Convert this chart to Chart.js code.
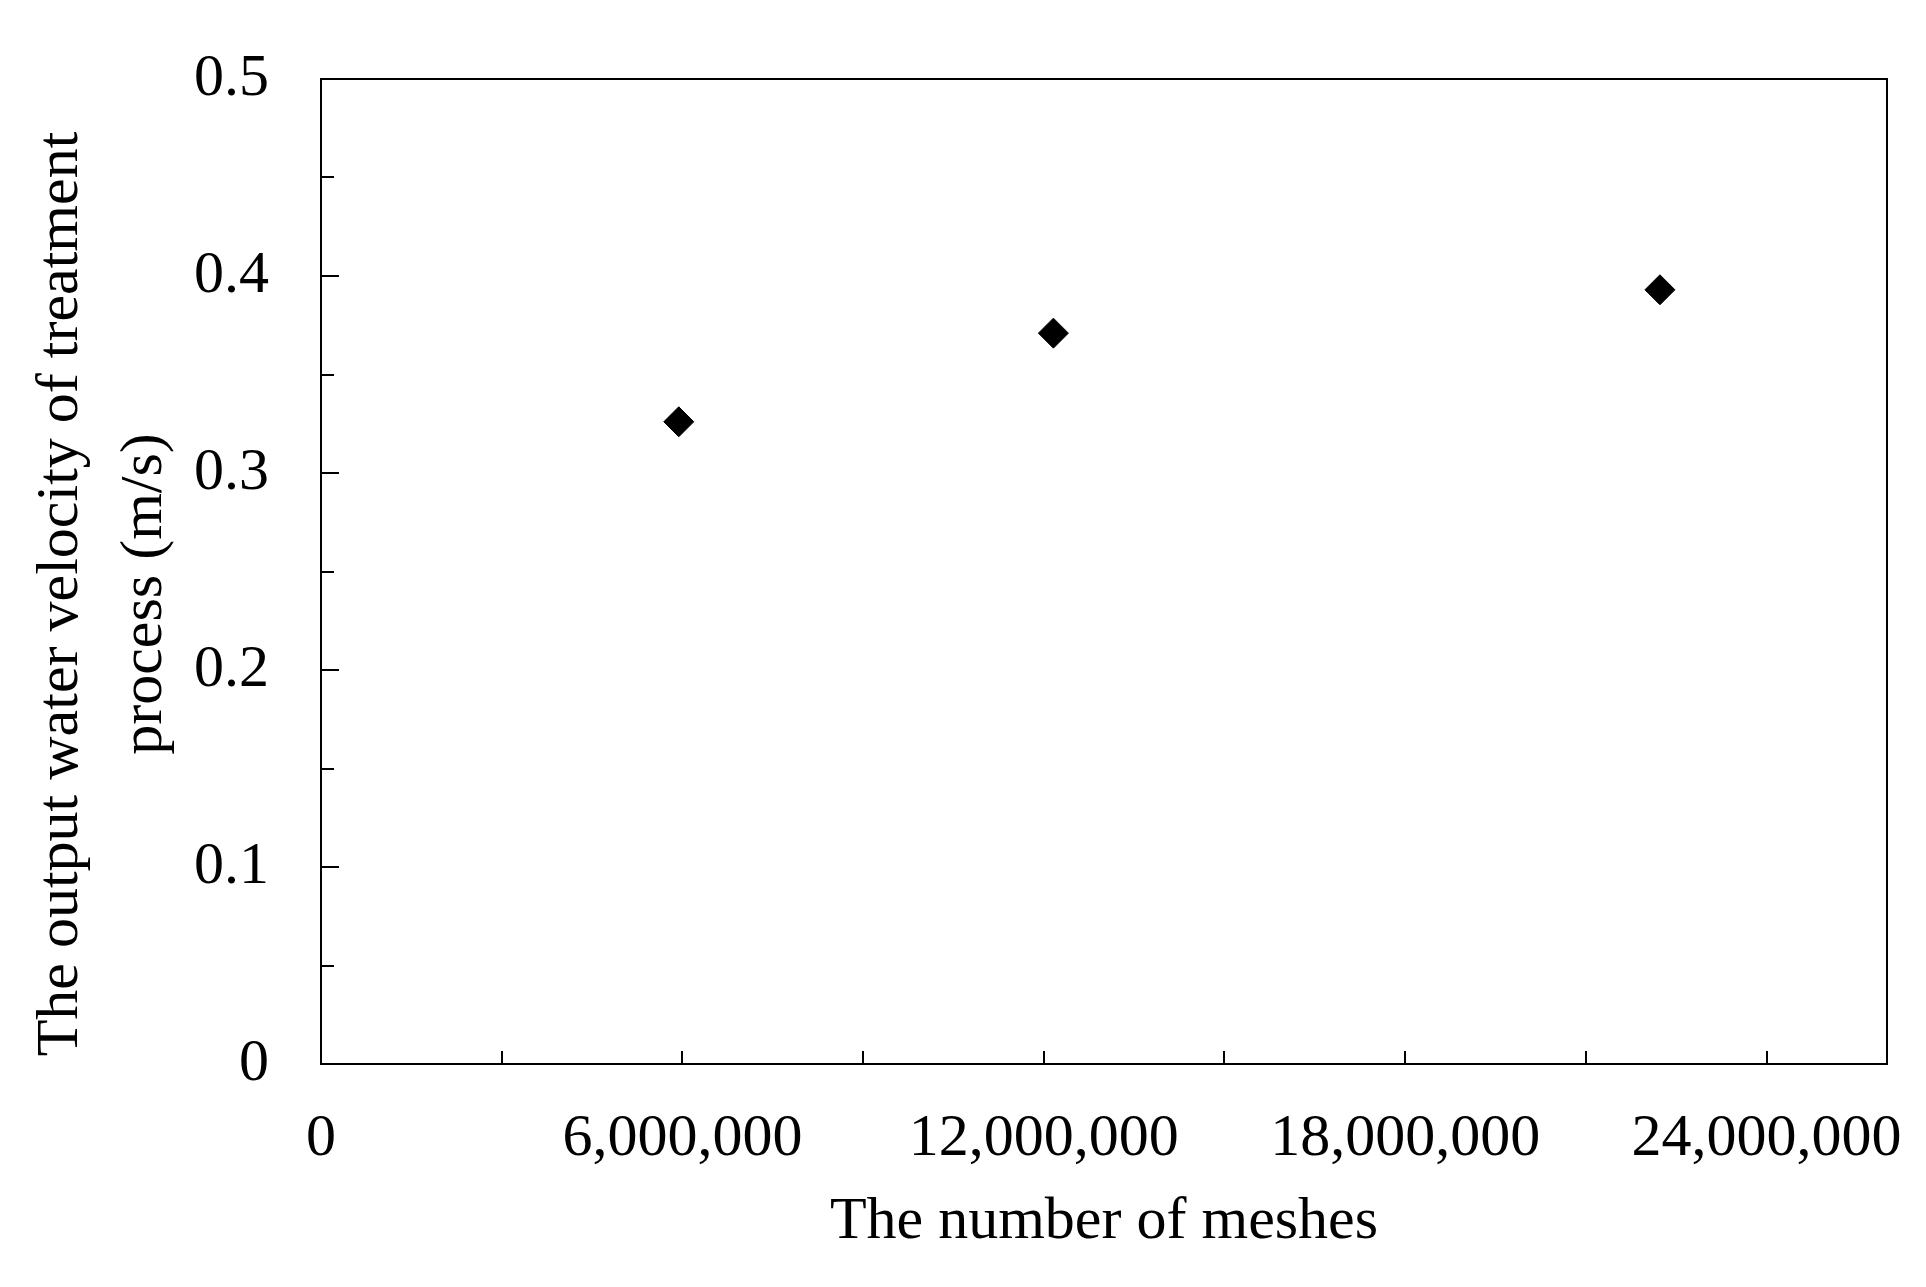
<!DOCTYPE html>
<html>
<head>
<meta charset="utf-8">
<script src="https://cdn.jsdelivr.net/npm/chart.js@4.4.1/dist/chart.umd.min.js"></script>
<style>
  html, body { margin: 0; padding: 0; background: #ffffff; }
  #wrap { width: 1926px; height: 1287px; position: relative; }
</style>
</head>
<body>
<div id="wrap"><canvas id="c" width="1926" height="1287"></canvas></div>
<script>
// ---- data ----
const meshCounts = [5940000, 12160000, 22230000];
const outputVelocity = [0.326, 0.371, 0.393];
const xTickValues = [0, 3000000, 6000000, 9000000, 12000000, 15000000, 18000000, 21000000, 24000000];
const xTickLabels = ["0", "", "6,000,000", "", "12,000,000", "", "18,000,000", "", "24,000,000"];
const yTickValues = [0, 0.05, 0.1, 0.15, 0.2, 0.25, 0.3, 0.35, 0.4, 0.45, 0.5];
const yTickLabels = ["0", "", "0.1", "", "0.2", "", "0.3", "", "0.4", "", "0.5"];
const xTitle = "The number of meshes";
const yTitleLines = ["The output water velocity of treatment", "process (m/s)"];

const FONT = "'Liberation Serif', 'Times New Roman', serif";
const X_MAX = 26000000;
const Y_MAX = 0.5;

const boxAndTicks = {
  id: 'boxAndTicks',
  afterDraw(chart) {
    const ctx = chart.ctx;
    const a = chart.chartArea;
    const xs = chart.scales.x, ys = chart.scales.y;
    ctx.save();
    ctx.strokeStyle = '#000';
    ctx.lineWidth = 2;
    ctx.lineCap = 'butt';
    // inward ticks on y axis (longer where labelled)
    ys.ticks.forEach((t, i) => {
      if (t.value <= 0 || t.value >= Y_MAX) return;
      const y = Math.round(ys.getPixelForValue(t.value));
      const len = yTickLabels[i] ? 18 : 13;
      ctx.beginPath();
      ctx.moveTo(a.left, y);
      ctx.lineTo(a.left + len, y);
      ctx.stroke();
    });
    // inward ticks on x axis
    xs.ticks.forEach(t => {
      if (t.value <= 0 || t.value >= X_MAX) return;
      const x = Math.round(xs.getPixelForValue(t.value));
      ctx.beginPath();
      ctx.moveTo(x, a.bottom);
      ctx.lineTo(x, a.bottom - 13);
      ctx.stroke();
    });
    // frame
    ctx.strokeRect(Math.round(a.left), Math.round(a.top), Math.round(a.right - a.left), Math.round(a.bottom - a.top));
    // y title (two lines, rotated)
    ctx.fillStyle = '#000';
    ctx.font = "60px " + FONT;
    ctx.textAlign = 'center';
    ctx.textBaseline = 'middle';
    const cy = 594;
    const lineX = [61, 145];
    yTitleLines.forEach((line, i) => {
      ctx.save();
      ctx.translate(lineX[i], cy);
      ctx.rotate(-Math.PI / 2);
      ctx.fillText(line, 0, 0);
      ctx.restore();
    });
    ctx.restore();
  }
};

new Chart(document.getElementById('c'), {
  type: 'scatter',
  data: {
    datasets: [{
      data: meshCounts.map((x, i) => ({ x: x, y: outputVelocity[i] })),
      pointStyle: 'rectRot',
      pointRadius: 15,
      pointHoverRadius: 15,
      backgroundColor: '#000',
      borderColor: '#000',
      borderWidth: 1
    }]
  },
  plugins: [boxAndTicks],
  options: {
    responsive: false,
    animation: false,
    events: [],
    layout: { padding: { top: 79, right: 39, left: 0, bottom: 0 } },
    plugins: { legend: { display: false }, tooltip: { enabled: false }, title: { display: false } },
    scales: {
      x: {
        type: 'linear',
        min: 0,
        max: X_MAX,
        afterBuildTicks(scale) {
          scale.ticks = xTickValues.map(v => ({ value: v }));
        },
        afterFit(scale) {
          scale.height = 1287 - 1064;
          scale.paddingLeft = 0; scale.paddingRight = 0;
        },
        grid: { display: false, drawTicks: false },
        border: { display: false },
        ticks: {
          autoSkip: false,
          maxRotation: 0,
          minRotation: 0,
          padding: 39,
          color: '#000',
          font: { family: FONT, size: 60 },
          callback(v, i) { return xTickLabels[i]; }
        },
        title: {
          display: true,
          text: xTitle,
          color: '#000',
          font: { family: FONT, size: 60 },
          padding: { top: 0, bottom: 29 }
        }
      },
      y: {
        type: 'linear',
        min: 0,
        max: Y_MAX,
        afterBuildTicks(scale) {
          scale.ticks = yTickValues.map(v => ({ value: v }));
        },
        afterFit(scale) {
          scale.width = 321;
          scale.paddingTop = 0; scale.paddingBottom = 0;
        },
        grid: { display: false, drawTicks: false },
        border: { display: false },
        ticks: {
          autoSkip: false,
          padding: 52,
          color: '#000',
          font: { family: FONT, size: 60 },
          callback(v, i) { return yTickLabels[i]; }
        }
      }
    }
  }
});
</script>
</body>
</html>
